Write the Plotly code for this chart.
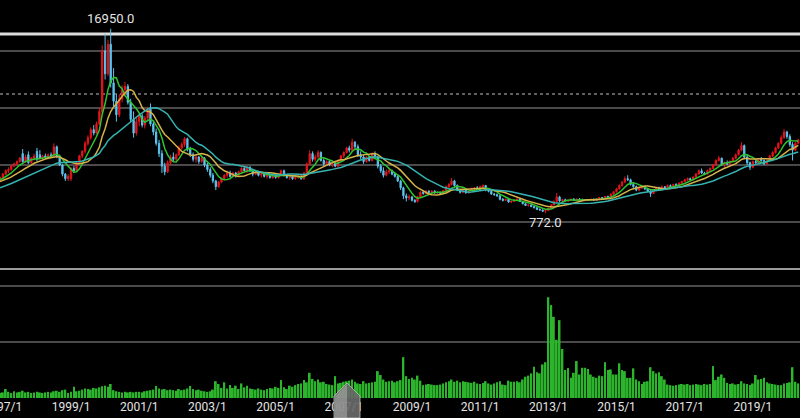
import plotly.graph_objects as go
import pandas as pd

# ---------------- data (monthly, 1996/12 .. 2020/5) ----------------
start_month = "1996-12-01"

# closes before the visible window (1995/1 .. 1996/11), used only to warm up the moving averages
pre_close = [2300, 2400, 2300, 2200, 2400, 2500, 2600, 2600, 2500, 2700, 2800, 2800,
             2900, 3100, 3200, 3400, 3500, 3500, 3600, 3600, 3700, 3800, 3700]

open_ = [3600,
    3900, 4200, 4500, 4600, 4900, 5100, 5300, 6000, 5300, 5900, 5200, 5600,
    6200, 5900, 5600, 5800, 5700, 5900, 5800, 6600, 5800, 5000, 4200, 3800,
    3800, 4700, 4500, 5200, 5800, 6200, 6900, 7400, 8100, 7800, 8600, 9700,
    15000, 13000, 15600, 12200, 10600, 9400, 10800, 11600, 11900, 10500, 9000, 7800,
    8800, 9300, 8500, 9100, 9900, 8600, 7900, 6900, 6000, 4900, 4400, 5200,
    5700, 5500, 5900, 6500, 6800, 7300, 6400, 5900, 5500, 5700, 5300, 5600,
    5000, 4600, 4100, 3600, 3100, 3500, 3800, 4100, 4300, 4000, 4300, 4100,
    4400, 4700, 4500, 4800, 4500, 4200, 4400, 4100, 4200, 4000, 4100, 3900,
    4100, 3900, 4100, 4500, 4100, 3900, 4000, 3800, 3900, 4000, 3800, 4300,
    5100, 6000, 5500, 5700, 6100, 5400, 5100, 5300, 5000, 5200, 4900, 5400,
    5800, 6100, 6500, 6300, 7000, 6600, 5900, 5700, 5300, 5700, 5400, 6000,
    5700, 4900, 4500, 4100, 4400, 4500, 4200, 4000, 3600, 3000, 2300, 2100,
    2200, 1900, 1800, 2200, 2600, 2500, 2700, 2600, 2700, 2550, 2600, 2500,
    2750, 3100, 3300, 3600, 3200, 2800, 2600, 2800, 2550, 2750, 2900, 3000,
    2900, 3100, 3200, 2800, 2700, 2450, 2400, 2300, 2000, 1900, 2000, 1750,
    1800, 1900, 2000, 1800, 1600, 1450, 1500, 1350, 1250, 1100, 1050, 950,
    1000, 1200, 1500, 1800, 2200, 1850, 1950, 1850, 1900, 2000, 1900, 2000,
    1950, 1900, 1950, 1900, 2000, 1900, 2050, 2150, 2050, 2250, 2150, 2450,
    2650, 2900, 3200, 3500, 3800, 3700, 3300, 3100, 2800, 3000, 3100, 2900,
    2700, 2500, 2800, 3000, 2900, 3100, 3000, 3200, 3100, 3300, 3200, 3400,
    3550, 3700, 3800, 3700, 3950, 4200, 4500, 4300, 4200, 4500, 4700, 5000,
    5400, 5600, 5000, 5200, 5100, 5300, 5600, 5900, 6300, 6700, 5700, 5200,
    4800, 5300, 5200, 5500, 5400, 5100, 5400, 5800, 6100, 6500, 6900, 7400,
    7900, 7500, 6800, 6300, 6900]

high = [4000,
    4300, 4600, 4800, 5000, 5200, 5400, 5700, 6400, 5900, 6200, 5700, 6000,
    6500, 6300, 5900, 6000, 6000, 6100, 6900, 6700, 5900, 5100, 4300, 4200,
    4800, 4900, 5300, 5900, 6300, 7100, 7600, 8300, 8500, 8800, 10000, 15500,
    16500, 16000, 16950, 13500, 11200, 11200, 12000, 12300, 12100, 10800, 9700, 9200,
    9600, 9500, 9300, 10100, 10400, 8900, 8200, 7200, 6300, 5200, 5400, 5900,
    6100, 6000, 6700, 7000, 7450, 7400, 6600, 6100, 5900, 5800, 5800, 5700,
    5200, 4800, 4300, 3700, 3600, 3900, 4200, 4500, 4500, 4400, 4400, 4500,
    4800, 4900, 4900, 4900, 4600, 4500, 4500, 4300, 4300, 4200, 4200, 4200,
    4200, 4200, 4600, 4600, 4200, 4100, 4100, 4000, 4100, 4100, 4400, 5200,
    6300, 6200, 5900, 6300, 6200, 5600, 5400, 5400, 5300, 5300, 5500, 5900,
    6200, 6600, 6700, 7300, 7100, 6800, 6200, 5900, 5800, 5800, 6100, 6200,
    5800, 5100, 4800, 4600, 4700, 4600, 4400, 4100, 3700, 3100, 2500, 2400,
    2300, 2000, 2300, 2700, 2800, 2800, 2800, 2800, 2800, 2700, 2650, 2800,
    3200, 3400, 3860, 3700, 3300, 2900, 2900, 2850, 2800, 3000, 3050, 3150,
    3200, 3300, 3250, 2900, 2750, 2550, 2500, 2350, 2100, 2050, 2050, 1850,
    1950, 2050, 2050, 1850, 1650, 1550, 1550, 1400, 1300, 1200, 1100, 1050,
    1250, 1550, 1900, 2540, 2300, 2000, 2050, 1950, 2050, 2100, 2050, 2100,
    2050, 2000, 2000, 2050, 2050, 2100, 2200, 2200, 2300, 2300, 2500, 2700,
    3000, 3300, 3600, 4000, 4100, 3800, 3450, 3200, 3100, 3200, 3150, 3000,
    2800, 2900, 3100, 3100, 3200, 3150, 3300, 3300, 3350, 3400, 3500, 3600,
    3800, 3900, 3900, 4000, 4300, 4600, 4700, 4400, 4600, 4800, 5100, 5500,
    5800, 5650, 5300, 5400, 5400, 5700, 6000, 6400, 7000, 6800, 5900, 5300,
    5400, 5500, 5600, 5700, 5500, 5500, 5900, 6200, 6600, 7000, 7600, 8150,
    8000, 7700, 7000, 7000, 7300]

low = [3500,
    3800, 4100, 4300, 4500, 4800, 5000, 5200, 5200, 5200, 5100, 5100, 5400,
    5300, 5500, 5400, 5500, 5500, 5600, 5700, 5600, 4900, 4000, 3600, 3600,
    3600, 4300, 4400, 5100, 5600, 6000, 6700, 7200, 7600, 7700, 8500, 9500,
    12500, 12800, 11800, 10000, 8800, 9200, 10500, 11000, 10300, 8800, 7400, 7600,
    8400, 8300, 8200, 8900, 8400, 7600, 6700, 5700, 4300, 4100, 4300, 5000,
    5300, 5300, 5800, 6300, 6600, 6200, 5700, 5300, 5200, 5100, 5200, 4800,
    4400, 3900, 3400, 2800, 3000, 3400, 3700, 3900, 3900, 3900, 3900, 4000,
    4300, 4400, 4300, 4400, 4000, 4100, 4000, 3900, 3900, 3800, 3800, 3800,
    3800, 3800, 4000, 4000, 3800, 3700, 3700, 3700, 3800, 3700, 3700, 4200,
    5000, 5300, 5300, 5500, 5300, 4900, 4900, 4900, 4800, 4800, 4800, 5300,
    5600, 6000, 6100, 6200, 6400, 5700, 5500, 5100, 5200, 5300, 5300, 5600,
    4700, 4300, 3900, 4000, 4200, 4100, 3900, 3500, 2800, 2000, 1800, 1900,
    1800, 1670, 1700, 2100, 2400, 2400, 2500, 2500, 2500, 2450, 2400, 2450,
    2700, 3000, 3200, 3100, 2700, 2500, 2550, 2500, 2500, 2700, 2800, 2850,
    2850, 3000, 2700, 2600, 2400, 2300, 2200, 1900, 1800, 1850, 1700, 1650,
    1750, 1850, 1750, 1550, 1400, 1350, 1300, 1200, 1050, 1000, 880, 772,
    950, 1150, 1450, 1750, 1750, 1750, 1800, 1750, 1850, 1850, 1850, 1900,
    1850, 1800, 1850, 1850, 1850, 1850, 2000, 2000, 2000, 2100, 2100, 2400,
    2600, 2850, 3100, 3400, 3600, 3200, 3000, 2700, 2700, 2900, 2800, 2600,
    2200, 2450, 2750, 2800, 2850, 2900, 2950, 3050, 3050, 3150, 3150, 3350,
    3500, 3600, 3650, 3650, 3900, 4150, 4200, 4100, 4150, 4450, 4650, 4950,
    5300, 4900, 4800, 5000, 5000, 5250, 5500, 5850, 6200, 5500, 5000, 4560,
    4700, 5100, 5100, 5300, 5000, 5050, 5350, 5700, 6000, 6400, 6800, 7300,
    7300, 6600, 5400, 6200, 6800]

close = [3900,
    4200, 4500, 4600, 4900, 5100, 5300, 5600, 5300, 5700, 5200, 5600, 5800,
    5500, 5600, 5800, 5700, 5900, 5800, 6600, 5800, 5000, 4200, 3800, 4000,
    4700, 4500, 5200, 5800, 6200, 6900, 7400, 8100, 7800, 8600, 9700, 15000,
    13000, 15600, 12200, 10600, 9400, 10800, 11600, 11900, 10500, 9000, 7800, 8800,
    9300, 8500, 9100, 9900, 8600, 7900, 6900, 6000, 4900, 4400, 5200, 5700,
    5500, 5900, 6500, 6800, 7300, 6400, 5900, 5500, 5700, 5300, 5600, 5000,
    4600, 4100, 3600, 3100, 3500, 3800, 4100, 4300, 4000, 4300, 4100, 4400,
    4700, 4500, 4800, 4500, 4200, 4400, 4100, 4200, 4000, 4100, 3900, 4100,
    3900, 4100, 4500, 4100, 3900, 4000, 3800, 3900, 4000, 3800, 4300, 5100,
    6000, 5500, 5700, 6100, 5400, 5100, 5300, 5000, 5200, 4900, 5400, 5800,
    6100, 6500, 6300, 7000, 6600, 5900, 5700, 5300, 5700, 5400, 6000, 5700,
    4900, 4500, 4100, 4400, 4500, 4200, 4000, 3600, 3000, 2300, 2100, 2200,
    1900, 1800, 2200, 2600, 2500, 2700, 2600, 2700, 2550, 2600, 2500, 2750,
    3100, 3300, 3600, 3200, 2800, 2600, 2800, 2550, 2750, 2900, 3000, 2900,
    3100, 3200, 2800, 2700, 2450, 2400, 2300, 2000, 1900, 2000, 1750, 1800,
    1900, 2000, 1800, 1600, 1450, 1500, 1350, 1250, 1100, 1050, 950, 1000,
    1200, 1500, 1800, 2200, 1850, 1950, 1850, 1900, 2000, 1900, 2000, 1950,
    1900, 1950, 1900, 2000, 1900, 2050, 2150, 2050, 2250, 2150, 2450, 2650,
    2900, 3200, 3500, 3800, 3700, 3300, 3100, 2800, 3000, 3100, 2900, 2700,
    2500, 2800, 3000, 2900, 3100, 3000, 3200, 3100, 3300, 3200, 3400, 3550,
    3700, 3800, 3700, 3950, 4200, 4500, 4300, 4200, 4500, 4700, 5000, 5400,
    5600, 5000, 5200, 5100, 5300, 5600, 5900, 6300, 6700, 5700, 5200, 4800,
    5300, 5200, 5500, 5400, 5100, 5400, 5800, 6100, 6500, 6900, 7400, 7900,
    7500, 6800, 6300, 6900, 7200]

volume = [90,
    100, 160, 110, 90, 120, 100, 110, 130, 100, 110, 90, 100,
    110, 100, 90, 100, 110, 100, 120, 130, 110, 140, 150, 90,
    110, 200, 120, 130, 150, 170, 160, 150, 180, 170, 190, 210,
    220, 200, 250, 140, 120, 110, 100, 110, 100, 110, 100, 110,
    110, 100, 120, 130, 140, 150, 215, 170, 150, 160, 140, 150,
    140, 130, 160, 140, 150, 170, 215, 160, 140, 150, 130, 120,
    110, 120, 150, 300, 250, 180, 280, 170, 230, 180, 220, 160,
    260, 190, 220, 170, 160, 150, 170, 150, 140, 160, 180, 170,
    200, 180, 320, 190, 160, 220, 200, 230, 250, 260, 320, 280,
    450, 340, 300, 330, 280, 290, 250, 240, 230, 390, 260, 270,
    290, 300, 310, 330, 290, 260, 250, 300, 260, 270, 280, 290,
    480, 410, 330, 290, 300, 310, 280, 300, 320, 730, 390, 340,
    360, 330, 400, 310, 230, 240, 250, 240, 230, 230, 240, 260,
    280, 300, 330, 290, 310, 280, 300, 290, 280, 270, 290, 260,
    250, 270, 300, 260, 240, 260, 280, 300, 240, 230, 310, 290,
    290, 300, 280, 330, 380, 400, 440, 560, 460, 440, 600, 640,
    1800, 1660, 1450, 1040, 1390, 875, 500, 535, 360, 450, 660, 420,
    540, 540, 520, 420, 380, 360, 400, 390, 640, 500, 510, 420,
    420, 620, 500, 480, 360, 360, 530, 330, 300, 250, 290, 300,
    550, 480, 440, 460, 390, 330, 240, 230, 220, 230, 240, 250,
    240, 250, 230, 240, 250, 240, 230, 250, 240, 250, 570, 320,
    380, 420, 360, 270, 250, 260, 240, 250, 300, 260, 250, 230,
    260, 410, 330, 340, 360, 280, 260, 250, 240, 230, 230, 260,
    270, 280, 550, 290, 260]

tick_dates = ["1997-01-01", "1999-01-01", "2001-01-01", "2003-01-01", "2005-01-01", "2007-01-01",
              "2009-01-01", "2011-01-01", "2013-01-01", "2015-01-01", "2017-01-01", "2019-01-01"]
tick_labels = ["1997/1", "1999/1", "2001/1", "2003/1", "2005/1", "2007/1",
               "2009/1", "2011/1", "2013/1", "2015/1", "2017/1", "2019/1"]

ma_periods = [6, 12, 24]
ma_colors = ["#2fc42f", "#d6b24a", "#35b3b0"]

# ---------------- build ----------------
n = len(close)
assert len(open_) == n and len(high) == n and len(low) == n and len(volume) == n
months = pd.date_range(start_month, periods=n, freq="MS")
all_close = pd.Series(pre_close + close, dtype=float)
all_months = pd.date_range(months[0] - pd.DateOffset(months=len(pre_close)), periods=len(all_close), freq="MS")

RED = "#e8141c"
BLUE = "#5cc4ee"
VOLG = "#2cb52c"
TXT = "#e4e4e4"
FONT = "Roboto"

fig = go.Figure()
fig.add_trace(go.Candlestick(
    x=months, open=open_, high=high, low=low, close=close,
    increasing=dict(line=dict(color=RED, width=1), fillcolor=RED),
    decreasing=dict(line=dict(color=BLUE, width=1), fillcolor=BLUE),
    whiskerwidth=0, xaxis="x", yaxis="y", hoverinfo="skip"))

for p, col in zip(ma_periods, ma_colors):
    fig.add_trace(go.Scatter(x=all_months, y=all_close.rolling(p).mean(), mode="lines",
                             line=dict(color=col, width=1.5), xaxis="x", yaxis="y", hoverinfo="skip"))

fig.add_trace(go.Bar(x=months, y=volume, marker=dict(color=VOLG, line=dict(width=0)),
                     xaxis="x", yaxis="y2", hoverinfo="skip"))

# price extremes labels
imax = max(range(n), key=lambda i: high[i])
imin = min(range(n), key=lambda i: low[i])
annotations = [
    dict(x=months[imax], y=high[imax], xref="x", yref="y", text=f"{high[imax]:.1f}", showarrow=False,
         yanchor="bottom", yshift=1, font=dict(family=FONT, size=13, color=TXT)),
    dict(x=months[imin], y=low[imin], xref="x", yref="y", text=f"{low[imin]:.1f}", showarrow=False,
         yanchor="top", yshift=0, font=dict(family=FONT, size=13, color=TXT)),
]

PLOT_H = 398.0
def px(xp, yp):
    return xp / 800.0, (PLOT_H - yp) / PLOT_H

split = (PLOT_H - 269) / PLOT_H

def path(points):
    pts = [px(a, b) for a, b in points]
    return "M " + " L ".join(f"{a:.4f},{b:.4f}" for a, b in pts) + " Z"

shapes = [
    dict(type="line", xref="paper", yref="y", x0=0, x1=1, y0=16490, y1=16490,
         line=dict(color="#dcdcdc", width=3), layer="below"),
    dict(type="line", xref="paper", yref="y", x0=0, x1=1, y0=11230, y1=11230,
         line=dict(color="#808080", width=1.5, dash="dot"), layer="below"),
    dict(type="line", xref="paper", yref="paper", x0=0, x1=1, y0=split, y1=split,
         line=dict(color="#9a9a9a", width=2), layer="below"),
    dict(type="path", xref="paper", yref="paper",
         path=path([(334, 418), (334, 396), (347, 383), (360, 396), (360, 418)]),
         fillcolor="rgba(105,105,105,0.92)", line=dict(color="rgba(190,190,190,0.8)", width=1), layer="above"),
    dict(type="path", xref="paper", yref="paper",
         path=path([(335, 418), (335, 396), (347, 384), (347, 418)]),
         fillcolor="rgba(175,175,175,0.55)", line=dict(width=0), layer="above"),
]

fig.update_layout(
    width=800, height=418, margin=dict(l=0, r=0, t=0, b=20, autoexpand=False),
    paper_bgcolor="black", plot_bgcolor="black", showlegend=False,
    bargap=0.3,
    xaxis=dict(type="date", range=["1996-12-01", "2020-05-20"], rangeslider=dict(visible=False),
               tickvals=tick_dates, ticktext=tick_labels, showgrid=False, zeroline=False, showline=False,
               ticks="", tickfont=dict(family=FONT, size=12, color=TXT), ticklabeloverflow="allow",
               automargin=False, anchor="y2"),
    yaxis=dict(domain=[split, 1], range=[-4123, 19474], tickvals=[0, 5000, 10000, 15000], automargin=False,
               showticklabels=False, showgrid=True, gridcolor="#4a4a4a", gridwidth=1.5, zeroline=False),
    yaxis2=dict(domain=[0, split], range=[0, 2304], tickvals=[1000, 2000], automargin=False,
                showticklabels=False, showgrid=True, gridcolor="#4a4a4a", gridwidth=1.5, zeroline=False),
    annotations=annotations, shapes=shapes,
)

fig.write_html("out.html", config={"displayModeBar": False},
               post_script="document.body.style.margin='0';document.body.style.overflow='hidden';")
